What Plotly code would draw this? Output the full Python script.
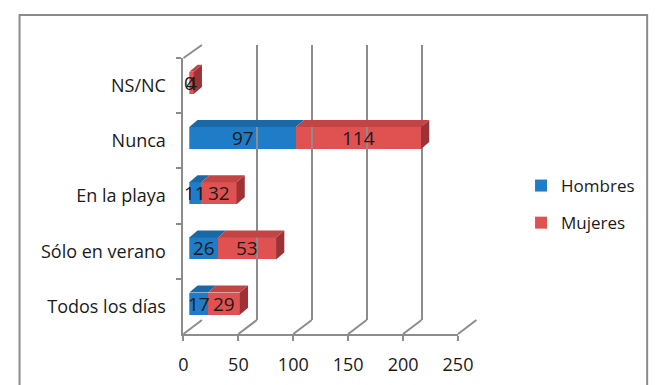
import plotly.graph_objects as go

# ---------------- data ----------------
categories = ["Todos los días", "Sólo en verano", "En la playa", "Nunca", "NS/NC"]
hombres = [17, 26, 11, 97, 0]
mujeres = [29, 53, 32, 114, 4]
series_names = ["Hombres", "Mujeres"]
x_ticks = [0, 50, 100, 150, 200, 250]

# ---------------- styling / geometry constants (pixels) ----------------
W, H = 667, 385
FX0, FX1 = 184, 467      # front floor edge (x axis) 0..250
BX0, BX1 = 203, 486      # back wall 0..250
FY_BOT, FY_TOP = 334, 58  # front left edge
BY_BOT, BY_TOP = 320, 45  # back left edge
BAR_X0 = 190              # bar front plane start
XMAX = 250
GRID = "#8c8c8c"
BLUE, BLUE_TOP = "#1e7dc6", "#1a68a6"
RED, RED_TOP, RED_SIDE = "#e05252", "#c24444", "#9c3236"
FONT = "Open Sans"

scale = (FX1 - FX0) / XMAX
cat_h = (FY_BOT - FY_TOP) / len(categories)
BAR_W = 0.4
SHIFT = 0.05
DXU = 8.5 / scale
DYU = 7.0 / cat_h


def px(x):
    return x / W


def py(y):
    return 1 - y / H


fig = go.Figure()

# stacked bars
fig.add_trace(go.Bar(y=categories, x=hombres, orientation="h", name=series_names[0],
                     marker=dict(color=BLUE, line=dict(width=0)), width=BAR_W,
                     offset=-BAR_W / 2 + SHIFT, xaxis="x2", yaxis="y",
                     legendgroup="a", hoverinfo="x+name"))
fig.add_trace(go.Bar(y=categories, x=mujeres, orientation="h", name=series_names[1],
                     marker=dict(color=RED, line=dict(width=0)), width=BAR_W,
                     offset=-BAR_W / 2 + SHIFT, xaxis="x2", yaxis="y",
                     legendgroup="b", hoverinfo="x+name"))

# invisible anchors for helper subplots
fig.add_trace(go.Scatter(x=[0], y=[categories[0]], mode="markers", marker=dict(opacity=0),
                         showlegend=False, hoverinfo="skip", xaxis="x", yaxis="y"))
fig.add_trace(go.Scatter(x=[0], y=[0.5], mode="markers", marker=dict(opacity=0),
                         showlegend=False, hoverinfo="skip", xaxis="x3", yaxis="y3"))

shapes = []
annotations = []

# 3D faces and labels for bars
for i, cat in enumerate(categories):
    yt = i + SHIFT + BAR_W / 2
    yb = i + SHIFT - BAR_W / 2
    base = 0
    for vals, top_col in ((hombres, BLUE_TOP), (mujeres, RED_TOP)):
        v = vals[i]
        if v > 0:
            shapes.append(dict(type="path", xref="x2", yref="y",
                               path=f"M {base},{yt} L {base + v},{yt} L {base + v + DXU},{yt + DYU} L {base + DXU},{yt + DYU} Z",
                               fillcolor=top_col, line=dict(width=0), layer="above"))
        annotations.append(dict(x=base + v / 2, y=i + SHIFT, xref="x2", yref="y", text=str(v),
                                showarrow=False, font=dict(family=FONT, size=19, color="#1a1a1a")))
        base += v
    shapes.append(dict(type="path", xref="x2", yref="y",
                       path=f"M {base},{yb} L {base},{yt} L {base + DXU},{yt + DYU} L {base + DXU},{yb + DYU} Z",
                       fillcolor=RED_SIDE, line=dict(width=0), layer="above"))

# floor diagonals from each tick and side wall diagonals
for t in x_ticks:
    fx = FX0 + t * scale
    bx = BX0 + t * (BX1 - BX0) / XMAX
    shapes.append(dict(type="line", xref="paper", yref="paper", x0=px(fx), y0=py(FY_BOT),
                       x1=px(bx), y1=py(BY_BOT), line=dict(color=GRID, width=2), layer="below"))
shapes.append(dict(type="line", xref="paper", yref="paper", x0=px(FX0), y0=py(FY_TOP),
                   x1=px(BX0), y1=py(BY_TOP), line=dict(color=GRID, width=2), layer="below"))

# outer frame
shapes.append(dict(type="rect", xref="paper", yref="paper", x0=px(15), x1=px(662),
                   y0=-0.05, y1=py(15), line=dict(color="#8a8a8a", width=2), layer="below"))

fig.update_layout(
    width=W, height=H,
    margin=dict(l=0, r=0, t=0, b=0),
    paper_bgcolor="white", plot_bgcolor="rgba(0,0,0,0)",
    barmode="stack",
    font=dict(family=FONT, size=18, color="#1a1a1a"),
    showlegend=True,
    legend=dict(x=px(532), y=py(168), xanchor="left", yanchor="top",
                font=dict(family=FONT, size=17, color="#1a1a1a"),
                traceorder="grouped", tracegroupgap=12, bgcolor="rgba(0,0,0,0)"),
    xaxis=dict(domain=[px(FX0), px(FX1)], range=[0, XMAX], anchor="y",
               showline=True, linecolor=GRID, linewidth=2, showgrid=False, zeroline=False,
               ticks="outside", ticklen=5, tickwidth=2, tickcolor=GRID,
               tickvals=x_ticks, ticktext=[str(t) for t in x_ticks],
               tickfont=dict(family=FONT, size=18), ticklabelstandoff=8, fixedrange=True),
    yaxis=dict(domain=[py(FY_BOT), py(FY_TOP)], type="category",
               categoryorder="array", categoryarray=categories, range=[-0.5, len(categories) - 0.5],
               anchor="x", showline=True, linecolor=GRID, linewidth=2, showgrid=False,
               ticks="outside", tickson="boundaries", ticklen=5, tickwidth=2, tickcolor=GRID,
               tickfont=dict(family=FONT, size=18), ticklabelstandoff=12, fixedrange=True),
    xaxis2=dict(domain=[px(BAR_X0), px(BAR_X0 + (FX1 - FX0))], range=[0, XMAX], anchor="y",
                visible=False, fixedrange=True),
    xaxis3=dict(domain=[px(BX0), px(BX1)], range=[0, XMAX], anchor="y3",
                showgrid=True, gridcolor=GRID, gridwidth=2, tickvals=x_ticks,
                showticklabels=False, ticks="", zeroline=False, showline=False, fixedrange=True),
    yaxis3=dict(domain=[py(BY_BOT), py(BY_TOP)], range=[0, 1], anchor="x3",
                visible=False, fixedrange=True),
    shapes=shapes,
    annotations=annotations,
)

fig.write_html("out.html")
